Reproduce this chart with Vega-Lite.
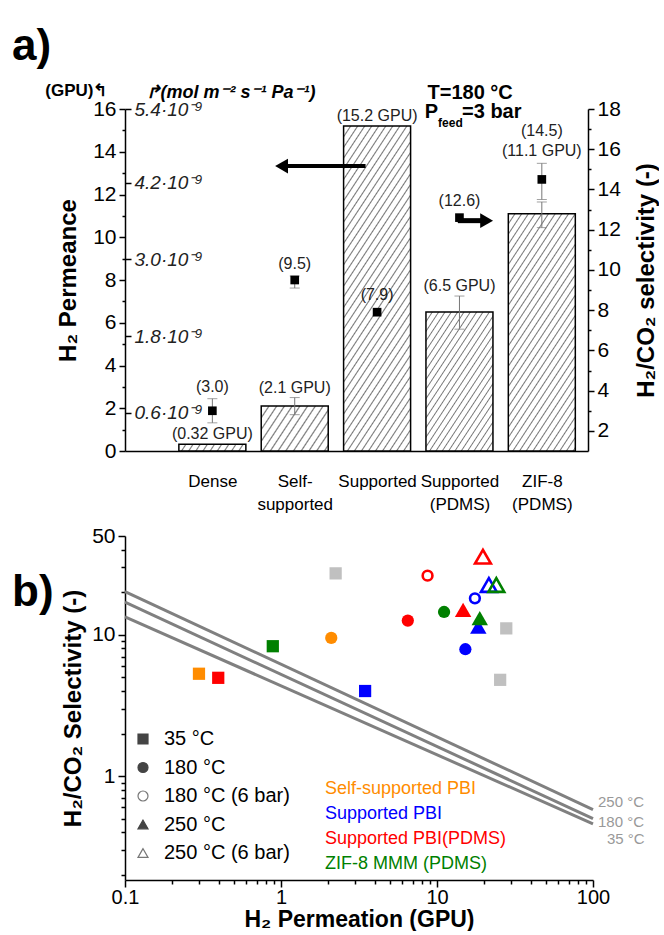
{
  "$schema": "https://vega.github.io/schema/vega-lite/v6.json",
  "autosize": {"type": "pad"},
  "padding": {"left": 12, "top": 25, "right": 0, "bottom": 0},
  "background": "white",
  "config": {
    "font": "Liberation Sans",
    "view": {"stroke": null},
    "axis": {
      "grid": false,
      "domainColor": "#000",
      "domainWidth": 1.5,
      "tickColor": "#000",
      "tickWidth": 1.5,
      "labelColor": "#000",
      "labelFontSize": 21,
      "labelFlush": false,
      "labelOverlap": false,
      "titleColor": "#000",
      "titleFontSize": 24,
      "titleFontWeight": "bold"
    }
  },
  "datasets": {
    "membranes": [
      {"pos": 1, "name": "Dense", "gpu": 0.32, "sel": 3.0, "selLo": 2.4, "selHi": 3.6, "gpuText": "(0.32 GPU)", "selText": "(3.0)"},
      {"pos": 2, "name": "Self-supported", "gpu": 2.1, "gpuLo": 1.7, "gpuHi": 2.5, "sel": 9.5, "selLo": 9.1, "selHi": 9.7, "gpuText": "(2.1 GPU)", "selText": "(9.5)"},
      {"pos": 3, "name": "Supported", "gpu": 15.2, "sel": 7.9, "gpuText": "(15.2 GPU)", "selText": "(7.9)"},
      {"pos": 4, "name": "Supported (PDMS)", "gpu": 6.5, "gpuLo": 5.7, "gpuHi": 7.25, "sel": 12.6, "gpuText": "(6.5 GPU)", "selText": "(12.6)"},
      {"pos": 5, "name": "ZIF-8 (PDMS)", "gpu": 11.1, "gpuLo": 10.45, "gpuHi": 11.65, "sel": 14.5, "selLo": 13.5, "selHi": 15.3, "gpuText": "(11.1 GPU)", "selText": "(14.5)"}
    ],
    "bounds": [
      {"temp": "250 °C", "perm": 0.1, "sel": 20.2},
      {"temp": "250 °C", "perm": 100, "sel": 0.58},
      {"temp": "180 °C", "perm": 0.1, "sel": 17.0},
      {"temp": "180 °C", "perm": 100, "sel": 0.5},
      {"temp": "35 °C", "perm": 0.1, "sel": 13.4},
      {"temp": "35 °C", "perm": 100, "sel": 0.46}
    ],
    "permeation": [
      {"material": "Reference data", "cond": "35 °C", "perm": 2.24, "sel": 27.2},
      {"material": "Reference data", "cond": "35 °C", "perm": 27.8, "sel": 11.1},
      {"material": "Reference data", "cond": "35 °C", "perm": 25.4, "sel": 4.8},
      {"material": "Self-supported PBI", "cond": "35 °C", "perm": 0.298, "sel": 5.3},
      {"material": "Self-supported PBI", "cond": "180 °C", "perm": 2.1, "sel": 9.5},
      {"material": "Supported PBI", "cond": "35 °C", "perm": 3.46, "sel": 4.0},
      {"material": "Supported PBI", "cond": "180 °C", "perm": 15.2, "sel": 7.9},
      {"material": "Supported PBI", "cond": "180 °C (6 bar)", "perm": 17.5, "sel": 18.1},
      {"material": "Supported PBI", "cond": "250 °C", "perm": 18.4, "sel": 11.4},
      {"material": "Supported PBI", "cond": "250 °C (6 bar)", "perm": 21.5, "sel": 22.5},
      {"material": "Supported PBI(PDMS)", "cond": "35 °C", "perm": 0.396, "sel": 4.96},
      {"material": "Supported PBI(PDMS)", "cond": "180 °C", "perm": 6.5, "sel": 12.6},
      {"material": "Supported PBI(PDMS)", "cond": "180 °C (6 bar)", "perm": 8.7, "sel": 26.2},
      {"material": "Supported PBI(PDMS)", "cond": "250 °C", "perm": 14.7, "sel": 15.0},
      {"material": "Supported PBI(PDMS)", "cond": "250 °C (6 bar)", "perm": 19.7, "sel": 35.7},
      {"material": "ZIF-8 MMM (PDMS)", "cond": "35 °C", "perm": 0.886, "sel": 8.3},
      {"material": "ZIF-8 MMM (PDMS)", "cond": "180 °C", "perm": 11.1, "sel": 14.5},
      {"material": "ZIF-8 MMM (PDMS)", "cond": "250 °C", "perm": 18.8, "sel": 13.1},
      {"material": "ZIF-8 MMM (PDMS)", "cond": "250 °C (6 bar)", "perm": 24.0, "sel": 22.5}
    ]
  },
  "spacing": 85,
  "bounds": "flush",
  "vconcat": [
    {
      "width": 463,
      "height": 342,
      "title": {"text": "a)", "anchor": "start", "frame": "group", "fontSize": 44, "fontWeight": "bold", "color": "#000", "dx": -113, "offset": 12},
      "layer": [
        {
          "layer": [
            {
              "data": {"name": "membranes"},
              "mark": {"type": "bar", "orient": "vertical", "size": 67, "stroke": "#000", "strokeWidth": 1.5},
              "encoding": {
                "x": {"field": "pos", "type": "quantitative", "scale": {"domain": [0, 5.5], "nice": false, "zero": false},
                  "axis": {"orient": "bottom", "title": null, "values": [1, 2, 3, 4, 5], "ticks": false, "labelPadding": 22, "labelFontSize": 17, "labelLineHeight": 23, "labelBaseline": "top",
                    "labelExpr": "datum.value == 1 ? 'Dense' : datum.value == 2 ? ['Self-', 'supported'] : datum.value == 3 ? 'Supported' : datum.value == 4 ? ['Supported', '(PDMS)'] : ['ZIF-8', '(PDMS)']"}},
                "y": {"field": "gpu", "type": "quantitative", "scale": {"domain": [0, 16], "nice": false, "zero": false},
                  "axis": {"orient": "left", "title": "H₂ Permeance", "values": [0, 2, 4, 6, 8, 10, 12, 14, 16], "tickSize": 6, "labelPadding": 3, "titlePadding": 12}},
                "fill": {"condition": [
                  {"test": "datum.pos == 1", "value": {"gradient": "linear", "x1": 0, "y1": 0, "x2": 1.0625, "y2": 0.0714, "stops": [
                    {"offset": 0.082, "color": "#fff"}, {"offset": 0.1, "color": "#777"}, {"offset": 0.118, "color": "#fff"},
                    {"offset": 0.182, "color": "#fff"}, {"offset": 0.2, "color": "#777"}, {"offset": 0.218, "color": "#fff"},
                    {"offset": 0.282, "color": "#fff"}, {"offset": 0.3, "color": "#777"}, {"offset": 0.318, "color": "#fff"},
                    {"offset": 0.382, "color": "#fff"}, {"offset": 0.4, "color": "#777"}, {"offset": 0.418, "color": "#fff"},
                    {"offset": 0.482, "color": "#fff"}, {"offset": 0.5, "color": "#777"}, {"offset": 0.518, "color": "#fff"},
                    {"offset": 0.582, "color": "#fff"}, {"offset": 0.6, "color": "#777"}, {"offset": 0.618, "color": "#fff"},
                    {"offset": 0.682, "color": "#fff"}, {"offset": 0.7, "color": "#777"}, {"offset": 0.718, "color": "#fff"},
                    {"offset": 0.782, "color": "#fff"}, {"offset": 0.8, "color": "#777"}, {"offset": 0.818, "color": "#fff"},
                    {"offset": 0.882, "color": "#fff"}, {"offset": 0.9, "color": "#777"}, {"offset": 0.918, "color": "#fff"}]}},
                  {"test": "datum.pos == 2", "value": {"gradient": "linear", "x1": 0, "y1": 0, "x2": 1.2064, "y2": 0.5325, "stops": [
                    {"offset": 0.0656, "color": "#fff"}, {"offset": 0.08, "color": "#777"}, {"offset": 0.0944, "color": "#fff"},
                    {"offset": 0.1456, "color": "#fff"}, {"offset": 0.16, "color": "#777"}, {"offset": 0.1744, "color": "#fff"},
                    {"offset": 0.2256, "color": "#fff"}, {"offset": 0.24, "color": "#777"}, {"offset": 0.2544, "color": "#fff"},
                    {"offset": 0.3056, "color": "#fff"}, {"offset": 0.32, "color": "#777"}, {"offset": 0.3344, "color": "#fff"},
                    {"offset": 0.3856, "color": "#fff"}, {"offset": 0.4, "color": "#777"}, {"offset": 0.4144, "color": "#fff"},
                    {"offset": 0.4656, "color": "#fff"}, {"offset": 0.48, "color": "#777"}, {"offset": 0.4944, "color": "#fff"},
                    {"offset": 0.5456, "color": "#fff"}, {"offset": 0.56, "color": "#777"}, {"offset": 0.5744, "color": "#fff"},
                    {"offset": 0.6256, "color": "#fff"}, {"offset": 0.64, "color": "#777"}, {"offset": 0.6544, "color": "#fff"},
                    {"offset": 0.7056, "color": "#fff"}, {"offset": 0.72, "color": "#777"}, {"offset": 0.7344, "color": "#fff"},
                    {"offset": 0.7856, "color": "#fff"}, {"offset": 0.8, "color": "#777"}, {"offset": 0.8144, "color": "#fff"},
                    {"offset": 0.8656, "color": "#fff"}, {"offset": 0.88, "color": "#777"}, {"offset": 0.8944, "color": "#fff"},
                    {"offset": 0.9456, "color": "#fff"}, {"offset": 0.96, "color": "#777"}, {"offset": 0.9744, "color": "#fff"}]}},
                  {"test": "datum.pos == 3", "value": {"gradient": "linear", "x1": 0, "y1": 0, "x2": 0.3744, "y2": 1.1959, "stops": [
                    {"offset": 0.0205, "color": "#fff"}, {"offset": 0.025, "color": "#777"}, {"offset": 0.0295, "color": "#fff"},
                    {"offset": 0.0455, "color": "#fff"}, {"offset": 0.05, "color": "#777"}, {"offset": 0.0545, "color": "#fff"},
                    {"offset": 0.0705, "color": "#fff"}, {"offset": 0.075, "color": "#777"}, {"offset": 0.0795, "color": "#fff"},
                    {"offset": 0.0955, "color": "#fff"}, {"offset": 0.1, "color": "#777"}, {"offset": 0.1045, "color": "#fff"},
                    {"offset": 0.1205, "color": "#fff"}, {"offset": 0.125, "color": "#777"}, {"offset": 0.1295, "color": "#fff"},
                    {"offset": 0.1455, "color": "#fff"}, {"offset": 0.15, "color": "#777"}, {"offset": 0.1545, "color": "#fff"},
                    {"offset": 0.1705, "color": "#fff"}, {"offset": 0.175, "color": "#777"}, {"offset": 0.1795, "color": "#fff"},
                    {"offset": 0.1955, "color": "#fff"}, {"offset": 0.2, "color": "#777"}, {"offset": 0.2045, "color": "#fff"},
                    {"offset": 0.2205, "color": "#fff"}, {"offset": 0.225, "color": "#777"}, {"offset": 0.2295, "color": "#fff"},
                    {"offset": 0.2455, "color": "#fff"}, {"offset": 0.25, "color": "#777"}, {"offset": 0.2545, "color": "#fff"},
                    {"offset": 0.2705, "color": "#fff"}, {"offset": 0.275, "color": "#777"}, {"offset": 0.2795, "color": "#fff"},
                    {"offset": 0.2955, "color": "#fff"}, {"offset": 0.3, "color": "#777"}, {"offset": 0.3045, "color": "#fff"},
                    {"offset": 0.3205, "color": "#fff"}, {"offset": 0.325, "color": "#777"}, {"offset": 0.3295, "color": "#fff"},
                    {"offset": 0.3455, "color": "#fff"}, {"offset": 0.35, "color": "#777"}, {"offset": 0.3545, "color": "#fff"},
                    {"offset": 0.3705, "color": "#fff"}, {"offset": 0.375, "color": "#777"}, {"offset": 0.3795, "color": "#fff"},
                    {"offset": 0.3955, "color": "#fff"}, {"offset": 0.4, "color": "#777"}, {"offset": 0.4045, "color": "#fff"},
                    {"offset": 0.4205, "color": "#fff"}, {"offset": 0.425, "color": "#777"}, {"offset": 0.4295, "color": "#fff"},
                    {"offset": 0.4455, "color": "#fff"}, {"offset": 0.45, "color": "#777"}, {"offset": 0.4545, "color": "#fff"},
                    {"offset": 0.4705, "color": "#fff"}, {"offset": 0.475, "color": "#777"}, {"offset": 0.4795, "color": "#fff"},
                    {"offset": 0.4955, "color": "#fff"}, {"offset": 0.5, "color": "#777"}, {"offset": 0.5045, "color": "#fff"},
                    {"offset": 0.5205, "color": "#fff"}, {"offset": 0.525, "color": "#777"}, {"offset": 0.5295, "color": "#fff"},
                    {"offset": 0.5455, "color": "#fff"}, {"offset": 0.55, "color": "#777"}, {"offset": 0.5545, "color": "#fff"},
                    {"offset": 0.5705, "color": "#fff"}, {"offset": 0.575, "color": "#777"}, {"offset": 0.5795, "color": "#fff"},
                    {"offset": 0.5955, "color": "#fff"}, {"offset": 0.6, "color": "#777"}, {"offset": 0.6045, "color": "#fff"},
                    {"offset": 0.6205, "color": "#fff"}, {"offset": 0.625, "color": "#777"}, {"offset": 0.6295, "color": "#fff"},
                    {"offset": 0.6455, "color": "#fff"}, {"offset": 0.65, "color": "#777"}, {"offset": 0.6545, "color": "#fff"},
                    {"offset": 0.6705, "color": "#fff"}, {"offset": 0.675, "color": "#777"}, {"offset": 0.6795, "color": "#fff"},
                    {"offset": 0.6955, "color": "#fff"}, {"offset": 0.7, "color": "#777"}, {"offset": 0.7045, "color": "#fff"},
                    {"offset": 0.7205, "color": "#fff"}, {"offset": 0.725, "color": "#777"}, {"offset": 0.7295, "color": "#fff"},
                    {"offset": 0.7455, "color": "#fff"}, {"offset": 0.75, "color": "#777"}, {"offset": 0.7545, "color": "#fff"},
                    {"offset": 0.7705, "color": "#fff"}, {"offset": 0.775, "color": "#777"}, {"offset": 0.7795, "color": "#fff"},
                    {"offset": 0.7955, "color": "#fff"}, {"offset": 0.8, "color": "#777"}, {"offset": 0.8045, "color": "#fff"},
                    {"offset": 0.8205, "color": "#fff"}, {"offset": 0.825, "color": "#777"}, {"offset": 0.8295, "color": "#fff"},
                    {"offset": 0.8455, "color": "#fff"}, {"offset": 0.85, "color": "#777"}, {"offset": 0.8545, "color": "#fff"},
                    {"offset": 0.8705, "color": "#fff"}, {"offset": 0.875, "color": "#777"}, {"offset": 0.8795, "color": "#fff"},
                    {"offset": 0.8955, "color": "#fff"}, {"offset": 0.9, "color": "#777"}, {"offset": 0.9045, "color": "#fff"},
                    {"offset": 0.9205, "color": "#fff"}, {"offset": 0.925, "color": "#777"}, {"offset": 0.9295, "color": "#fff"},
                    {"offset": 0.9455, "color": "#fff"}, {"offset": 0.95, "color": "#777"}, {"offset": 0.9545, "color": "#fff"},
                    {"offset": 0.9705, "color": "#fff"}, {"offset": 0.975, "color": "#777"}, {"offset": 0.9795, "color": "#fff"}]}},
                  {"test": "datum.pos == 4", "value": {"gradient": "linear", "x1": 0, "y1": 0, "x2": 0.8257, "y2": 1.1276, "stops": [
                    {"offset": 0.0328, "color": "#fff"}, {"offset": 0.04, "color": "#777"}, {"offset": 0.0472, "color": "#fff"},
                    {"offset": 0.0728, "color": "#fff"}, {"offset": 0.08, "color": "#777"}, {"offset": 0.0872, "color": "#fff"},
                    {"offset": 0.1128, "color": "#fff"}, {"offset": 0.12, "color": "#777"}, {"offset": 0.1272, "color": "#fff"},
                    {"offset": 0.1528, "color": "#fff"}, {"offset": 0.16, "color": "#777"}, {"offset": 0.1672, "color": "#fff"},
                    {"offset": 0.1928, "color": "#fff"}, {"offset": 0.2, "color": "#777"}, {"offset": 0.2072, "color": "#fff"},
                    {"offset": 0.2328, "color": "#fff"}, {"offset": 0.24, "color": "#777"}, {"offset": 0.2472, "color": "#fff"},
                    {"offset": 0.2728, "color": "#fff"}, {"offset": 0.28, "color": "#777"}, {"offset": 0.2872, "color": "#fff"},
                    {"offset": 0.3128, "color": "#fff"}, {"offset": 0.32, "color": "#777"}, {"offset": 0.3272, "color": "#fff"},
                    {"offset": 0.3528, "color": "#fff"}, {"offset": 0.36, "color": "#777"}, {"offset": 0.3672, "color": "#fff"},
                    {"offset": 0.3928, "color": "#fff"}, {"offset": 0.4, "color": "#777"}, {"offset": 0.4072, "color": "#fff"},
                    {"offset": 0.4328, "color": "#fff"}, {"offset": 0.44, "color": "#777"}, {"offset": 0.4472, "color": "#fff"},
                    {"offset": 0.4728, "color": "#fff"}, {"offset": 0.48, "color": "#777"}, {"offset": 0.4872, "color": "#fff"},
                    {"offset": 0.5128, "color": "#fff"}, {"offset": 0.52, "color": "#777"}, {"offset": 0.5272, "color": "#fff"},
                    {"offset": 0.5528, "color": "#fff"}, {"offset": 0.56, "color": "#777"}, {"offset": 0.5672, "color": "#fff"},
                    {"offset": 0.5928, "color": "#fff"}, {"offset": 0.6, "color": "#777"}, {"offset": 0.6072, "color": "#fff"},
                    {"offset": 0.6328, "color": "#fff"}, {"offset": 0.64, "color": "#777"}, {"offset": 0.6472, "color": "#fff"},
                    {"offset": 0.6728, "color": "#fff"}, {"offset": 0.68, "color": "#777"}, {"offset": 0.6872, "color": "#fff"},
                    {"offset": 0.7128, "color": "#fff"}, {"offset": 0.72, "color": "#777"}, {"offset": 0.7272, "color": "#fff"},
                    {"offset": 0.7528, "color": "#fff"}, {"offset": 0.76, "color": "#777"}, {"offset": 0.7672, "color": "#fff"},
                    {"offset": 0.7928, "color": "#fff"}, {"offset": 0.8, "color": "#777"}, {"offset": 0.8072, "color": "#fff"},
                    {"offset": 0.8328, "color": "#fff"}, {"offset": 0.84, "color": "#777"}, {"offset": 0.8472, "color": "#fff"},
                    {"offset": 0.8728, "color": "#fff"}, {"offset": 0.88, "color": "#777"}, {"offset": 0.8872, "color": "#fff"},
                    {"offset": 0.9128, "color": "#fff"}, {"offset": 0.92, "color": "#777"}, {"offset": 0.9272, "color": "#fff"},
                    {"offset": 0.9528, "color": "#fff"}, {"offset": 0.96, "color": "#777"}, {"offset": 0.9672, "color": "#fff"}]}}
                ],
                "value": {"gradient": "linear", "x1": 0, "y1": 0, "x2": 0.5173, "y2": 1.2069, "stops": [
                    {"offset": 0.0246, "color": "#fff"}, {"offset": 0.03, "color": "#777"}, {"offset": 0.0354, "color": "#fff"},
                    {"offset": 0.0546, "color": "#fff"}, {"offset": 0.06, "color": "#777"}, {"offset": 0.0654, "color": "#fff"},
                    {"offset": 0.0846, "color": "#fff"}, {"offset": 0.09, "color": "#777"}, {"offset": 0.0954, "color": "#fff"},
                    {"offset": 0.1146, "color": "#fff"}, {"offset": 0.12, "color": "#777"}, {"offset": 0.1254, "color": "#fff"},
                    {"offset": 0.1446, "color": "#fff"}, {"offset": 0.15, "color": "#777"}, {"offset": 0.1554, "color": "#fff"},
                    {"offset": 0.1746, "color": "#fff"}, {"offset": 0.18, "color": "#777"}, {"offset": 0.1854, "color": "#fff"},
                    {"offset": 0.2046, "color": "#fff"}, {"offset": 0.21, "color": "#777"}, {"offset": 0.2154, "color": "#fff"},
                    {"offset": 0.2346, "color": "#fff"}, {"offset": 0.24, "color": "#777"}, {"offset": 0.2454, "color": "#fff"},
                    {"offset": 0.2646, "color": "#fff"}, {"offset": 0.27, "color": "#777"}, {"offset": 0.2754, "color": "#fff"},
                    {"offset": 0.2946, "color": "#fff"}, {"offset": 0.3, "color": "#777"}, {"offset": 0.3054, "color": "#fff"},
                    {"offset": 0.3246, "color": "#fff"}, {"offset": 0.33, "color": "#777"}, {"offset": 0.3354, "color": "#fff"},
                    {"offset": 0.3546, "color": "#fff"}, {"offset": 0.36, "color": "#777"}, {"offset": 0.3654, "color": "#fff"},
                    {"offset": 0.3846, "color": "#fff"}, {"offset": 0.39, "color": "#777"}, {"offset": 0.3954, "color": "#fff"},
                    {"offset": 0.4146, "color": "#fff"}, {"offset": 0.42, "color": "#777"}, {"offset": 0.4254, "color": "#fff"},
                    {"offset": 0.4446, "color": "#fff"}, {"offset": 0.45, "color": "#777"}, {"offset": 0.4554, "color": "#fff"},
                    {"offset": 0.4746, "color": "#fff"}, {"offset": 0.48, "color": "#777"}, {"offset": 0.4854, "color": "#fff"},
                    {"offset": 0.5046, "color": "#fff"}, {"offset": 0.51, "color": "#777"}, {"offset": 0.5154, "color": "#fff"},
                    {"offset": 0.5346, "color": "#fff"}, {"offset": 0.54, "color": "#777"}, {"offset": 0.5454, "color": "#fff"},
                    {"offset": 0.5646, "color": "#fff"}, {"offset": 0.57, "color": "#777"}, {"offset": 0.5754, "color": "#fff"},
                    {"offset": 0.5946, "color": "#fff"}, {"offset": 0.6, "color": "#777"}, {"offset": 0.6054, "color": "#fff"},
                    {"offset": 0.6246, "color": "#fff"}, {"offset": 0.63, "color": "#777"}, {"offset": 0.6354, "color": "#fff"},
                    {"offset": 0.6546, "color": "#fff"}, {"offset": 0.66, "color": "#777"}, {"offset": 0.6654, "color": "#fff"},
                    {"offset": 0.6846, "color": "#fff"}, {"offset": 0.69, "color": "#777"}, {"offset": 0.6954, "color": "#fff"},
                    {"offset": 0.7146, "color": "#fff"}, {"offset": 0.72, "color": "#777"}, {"offset": 0.7254, "color": "#fff"},
                    {"offset": 0.7446, "color": "#fff"}, {"offset": 0.75, "color": "#777"}, {"offset": 0.7554, "color": "#fff"},
                    {"offset": 0.7746, "color": "#fff"}, {"offset": 0.78, "color": "#777"}, {"offset": 0.7854, "color": "#fff"},
                    {"offset": 0.8046, "color": "#fff"}, {"offset": 0.81, "color": "#777"}, {"offset": 0.8154, "color": "#fff"},
                    {"offset": 0.8346, "color": "#fff"}, {"offset": 0.84, "color": "#777"}, {"offset": 0.8454, "color": "#fff"},
                    {"offset": 0.8646, "color": "#fff"}, {"offset": 0.87, "color": "#777"}, {"offset": 0.8754, "color": "#fff"},
                    {"offset": 0.8946, "color": "#fff"}, {"offset": 0.9, "color": "#777"}, {"offset": 0.9054, "color": "#fff"},
                    {"offset": 0.9246, "color": "#fff"}, {"offset": 0.93, "color": "#777"}, {"offset": 0.9354, "color": "#fff"},
                    {"offset": 0.9546, "color": "#fff"}, {"offset": 0.96, "color": "#777"}, {"offset": 0.9654, "color": "#fff"},
                    {"offset": 0.9846, "color": "#fff"}, {"offset": 0.99, "color": "#777"}, {"offset": 0.9954, "color": "#fff"}]}}
              }
            },
            {
              "data": {"name": "membranes"},
              "mark": {"type": "rule", "color": "#777", "strokeWidth": 1},
              "encoding": {
                "x": {"field": "pos", "type": "quantitative", "scale": {"domain": [0, 5.5], "nice": false, "zero": false}},
                "y": {"field": "gpuLo", "type": "quantitative", "scale": {"domain": [0, 16], "nice": false, "zero": false},
                  "axis": {"orient": "left", "values": [1, 3, 5, 7, 9, 11, 13, 15], "labels": false, "domain": false, "tickSize": 3,
                    "title": "(GPU)↰", "titleAngle": 0, "titleAlign": "right", "titleBaseline": "alphabetic", "titleX": -18, "titleY": -14, "titleFontSize": 17}},
                "y2": {"field": "gpuHi"}
              }
            },
            {
              "data": {"name": "membranes"},
              "mark": {"type": "tick", "orient": "horizontal", "size": 10, "thickness": 1, "color": "#777"},
              "encoding": {
                "x": {"field": "pos", "type": "quantitative", "scale": {"domain": [0, 5.5], "nice": false, "zero": false}},
                "y": {"field": "gpuLo", "type": "quantitative", "scale": {"domain": [0, 16], "nice": false, "zero": false}, "axis": null}
              }
            },
            {
              "data": {"name": "membranes"},
              "mark": {"type": "tick", "orient": "horizontal", "size": 10, "thickness": 1, "color": "#777"},
              "encoding": {
                "x": {"field": "pos", "type": "quantitative", "scale": {"domain": [0, 5.5], "nice": false, "zero": false}},
                "y": {"field": "gpuHi", "type": "quantitative", "scale": {"domain": [0, 16], "nice": false, "zero": false}, "axis": null}
              }
            },
            {
              "data": {"name": "membranes"},
              "transform": [{"filter": "isValid(datum.gpuHi) && datum.pos != 5"}],
              "mark": {"type": "text", "baseline": "bottom", "dy": -2, "fontSize": 16, "color": "#222"},
              "encoding": {
                "x": {"field": "pos", "type": "quantitative", "scale": {"domain": [0, 5.5], "nice": false, "zero": false}},
                "y": {"field": "gpuHi", "type": "quantitative", "scale": {"domain": [0, 16], "nice": false, "zero": false},
                  "axis": {"orient": "left", "values": [1.79, 5.37, 8.96, 12.54, 16], "tickSize": -6, "labelPadding": -3, "labelAlign": "left", "labelBaseline": "middle",
                    "labelFontStyle": "italic", "labelFontSize": 19, "labelColor": "#222", "domain": false,
                    "labelExpr": "format(datum.value * 0.335, '.1f') + '·10⁻⁹'",
                    "title": "↱(mol m⁻² s⁻¹ Pa⁻¹)", "titleAngle": 0, "titleAlign": "left", "titleBaseline": "alphabetic", "titleX": 20, "titleY": -12, "titleFontStyle": "italic", "titleFontSize": 18}},
                "text": {"field": "gpuText"}
              }
            },
            {
              "data": {"name": "membranes"},
              "transform": [{"filter": "!isValid(datum.gpuHi)"}],
              "mark": {"type": "text", "baseline": "bottom", "dy": -2, "fontSize": 16, "color": "#222"},
              "encoding": {
                "x": {"field": "pos", "type": "quantitative", "scale": {"domain": [0, 5.5], "nice": false, "zero": false}},
                "y": {"field": "gpu", "type": "quantitative", "scale": {"domain": [0, 16], "nice": false, "zero": false}, "axis": null},
                "text": {"field": "gpuText"}
              }
            },
            {
              "data": {"values": [{}]},
              "mark": {"type": "rule", "color": "#000", "strokeWidth": 4},
              "encoding": {
                "x": {"datum": 1.84, "type": "quantitative", "scale": {"domain": [0, 5.5], "nice": false, "zero": false}},
                "x2": {"datum": 2.86},
                "y": {"datum": 13.33, "type": "quantitative", "scale": {"domain": [0, 16], "nice": false, "zero": false}, "axis": null}
              }
            },
            {
              "data": {"values": [{}]},
              "mark": {"type": "point", "shape": "triangle-left", "filled": true, "color": "#000", "size": 220, "opacity": 1},
              "encoding": {
                "x": {"datum": 1.84, "type": "quantitative", "scale": {"domain": [0, 5.5], "nice": false, "zero": false}},
                "y": {"datum": 13.33, "type": "quantitative", "scale": {"domain": [0, 16], "nice": false, "zero": false}, "axis": null}
              }
            }
          ],
          "resolve": {"axis": {"y": "independent"}}
        },
        {
          "layer": [
            {
              "data": {"name": "membranes"},
              "mark": {"type": "rule", "color": "#777", "strokeWidth": 1},
              "encoding": {
                "x": {"field": "pos", "type": "quantitative", "scale": {"domain": [0, 5.5], "nice": false, "zero": false}},
                "y": {"field": "selLo", "type": "quantitative", "scale": {"domain": [1, 18], "nice": false, "zero": false},
                  "axis": {"orient": "right", "values": [3, 5, 7, 9, 11, 13, 15, 17], "labels": false, "domain": false, "tickSize": 3, "title": null}},
                "y2": {"field": "selHi"}
              }
            },
            {
              "data": {"name": "membranes"},
              "mark": {"type": "tick", "orient": "horizontal", "size": 10, "thickness": 1, "color": "#777"},
              "encoding": {
                "x": {"field": "pos", "type": "quantitative", "scale": {"domain": [0, 5.5], "nice": false, "zero": false}},
                "y": {"field": "selLo", "type": "quantitative", "scale": {"domain": [1, 18], "nice": false, "zero": false}, "axis": null}
              }
            },
            {
              "data": {"name": "membranes"},
              "mark": {"type": "tick", "orient": "horizontal", "size": 10, "thickness": 1, "color": "#777"},
              "encoding": {
                "x": {"field": "pos", "type": "quantitative", "scale": {"domain": [0, 5.5], "nice": false, "zero": false}},
                "y": {"field": "selHi", "type": "quantitative", "scale": {"domain": [1, 18], "nice": false, "zero": false}, "axis": null}
              }
            },
            {
              "data": {"name": "membranes"},
              "mark": {"type": "square", "size": 75, "color": "#000", "filled": true, "opacity": 1},
              "encoding": {
                "x": {"field": "pos", "type": "quantitative", "scale": {"domain": [0, 5.5], "nice": false, "zero": false}},
                "y": {"field": "sel", "type": "quantitative", "scale": {"domain": [1, 18], "nice": false, "zero": false},
                  "axis": {"orient": "right", "title": "H₂/CO₂ selectivity (-)", "values": [2, 4, 6, 8, 10, 12, 14, 16, 18], "tickSize": 6, "labelPadding": 3, "titleAngle": 270, "titleBaseline": "top", "titlePadding": 14}}
              }
            },
            {
              "data": {"name": "membranes"},
              "transform": [{"filter": "isValid(datum.selHi) && datum.pos != 5"}],
              "mark": {"type": "text", "baseline": "bottom", "dy": -4, "fontSize": 16, "color": "#222"},
              "encoding": {
                "x": {"field": "pos", "type": "quantitative", "scale": {"domain": [0, 5.5], "nice": false, "zero": false}},
                "y": {"field": "selHi", "type": "quantitative", "scale": {"domain": [1, 18], "nice": false, "zero": false}, "axis": null},
                "text": {"field": "selText"}
              }
            },
            {
              "data": {"name": "membranes"},
              "transform": [{"filter": "datum.pos == 5"}],
              "mark": {"type": "text", "baseline": "bottom", "dy": -24, "fontSize": 16, "color": "#222"},
              "encoding": {
                "x": {"field": "pos", "type": "quantitative", "scale": {"domain": [0, 5.5], "nice": false, "zero": false}},
                "y": {"field": "selHi", "type": "quantitative", "scale": {"domain": [1, 18], "nice": false, "zero": false}, "axis": null},
                "text": {"field": "selText"}
              }
            },
            {
              "data": {"name": "membranes"},
              "transform": [{"filter": "datum.pos == 5"}],
              "mark": {"type": "text", "baseline": "bottom", "dy": -4, "fontSize": 16, "color": "#222"},
              "encoding": {
                "x": {"field": "pos", "type": "quantitative", "scale": {"domain": [0, 5.5], "nice": false, "zero": false}},
                "y": {"field": "selHi", "type": "quantitative", "scale": {"domain": [1, 18], "nice": false, "zero": false}, "axis": null},
                "text": {"field": "gpuText"}
              }
            },
            {
              "data": {"name": "membranes"},
              "transform": [{"filter": "!isValid(datum.selHi)"}],
              "mark": {"type": "text", "baseline": "bottom", "dy": -9, "fontSize": 16, "color": "#222"},
              "encoding": {
                "x": {"field": "pos", "type": "quantitative", "scale": {"domain": [0, 5.5], "nice": false, "zero": false}},
                "y": {"field": "sel", "type": "quantitative", "scale": {"domain": [1, 18], "nice": false, "zero": false}, "axis": null},
                "text": {"field": "selText"}
              }
            },
            {
              "data": {"values": [{}]},
              "mark": {"type": "rule", "color": "#000", "strokeWidth": 5},
              "encoding": {
                "x": {"datum": 3.98, "type": "quantitative", "scale": {"domain": [0, 5.5], "nice": false, "zero": false}},
                "x2": {"datum": 4.3},
                "y": {"datum": 12.45, "type": "quantitative", "scale": {"domain": [1, 18], "nice": false, "zero": false}, "axis": null}
              }
            },
            {
              "data": {"values": [{}]},
              "mark": {"type": "point", "shape": "triangle-right", "filled": true, "color": "#000", "size": 220, "opacity": 1},
              "encoding": {
                "x": {"datum": 4.33, "type": "quantitative", "scale": {"domain": [0, 5.5], "nice": false, "zero": false}},
                "y": {"datum": 12.45, "type": "quantitative", "scale": {"domain": [1, 18], "nice": false, "zero": false}, "axis": null}
              }
            },
            {
              "data": {"values": [{}]},
              "mark": {"type": "text", "text": "T=180 °C", "fontSize": 20, "fontWeight": "bold", "color": "#000", "align": "center", "baseline": "alphabetic"},
              "encoding": {
                "x": {"datum": 4.13, "type": "quantitative", "scale": {"domain": [0, 5.5], "nice": false, "zero": false}},
                "y": {"datum": 18.5, "type": "quantitative", "scale": {"domain": [1, 18], "nice": false, "zero": false}, "axis": null}
              }
            },
            {
              "data": {"values": [{}]},
              "mark": {"type": "text", "text": "P", "fontSize": 20, "fontWeight": "bold", "color": "#000", "align": "right", "baseline": "alphabetic"},
              "encoding": {
                "x": {"datum": 3.74, "type": "quantitative", "scale": {"domain": [0, 5.5], "nice": false, "zero": false}},
                "y": {"datum": 17.57, "type": "quantitative", "scale": {"domain": [1, 18], "nice": false, "zero": false}, "axis": null}
              }
            },
            {
              "data": {"values": [{}]},
              "mark": {"type": "text", "text": "feed", "fontSize": 12, "fontWeight": "bold", "color": "#000", "align": "left", "baseline": "alphabetic", "dy": 9},
              "encoding": {
                "x": {"datum": 3.74, "type": "quantitative", "scale": {"domain": [0, 5.5], "nice": false, "zero": false}},
                "y": {"datum": 17.57, "type": "quantitative", "scale": {"domain": [1, 18], "nice": false, "zero": false}, "axis": null}
              }
            },
            {
              "data": {"values": [{}]},
              "mark": {"type": "text", "text": "=3 bar", "fontSize": 20, "fontWeight": "bold", "color": "#000", "align": "left", "baseline": "alphabetic", "dx": 24},
              "encoding": {
                "x": {"datum": 3.74, "type": "quantitative", "scale": {"domain": [0, 5.5], "nice": false, "zero": false}},
                "y": {"datum": 17.57, "type": "quantitative", "scale": {"domain": [1, 18], "nice": false, "zero": false}, "axis": null}
              }
            }
          ],
          "resolve": {"axis": {"y": "independent"}}
        }
      ],
      "resolve": {"scale": {"y": "independent"}, "axis": {"y": "independent"}}
    },
    {
      "width": 468,
      "height": 344,
      "title": {"text": "b)", "anchor": "start", "frame": "group", "fontSize": 44, "fontWeight": "bold", "color": "#000", "dx": -113, "dy": 90, "offset": 0},
      "layer": [
        {
          "data": {"name": "bounds"},
          "mark": {"type": "line", "color": "#808080", "strokeWidth": 3},
          "encoding": {
            "x": {"field": "perm", "type": "quantitative", "scale": {"type": "log", "domain": [0.1, 100], "nice": false},
              "axis": {"orient": "bottom", "values": [0.2, 0.3, 0.4, 0.5, 0.6, 0.7, 0.8, 0.9, 2, 3, 4, 5, 6, 7, 8, 9, 20, 30, 40, 50, 60, 70, 80, 90], "labels": false, "domain": false, "tickSize": 4, "title": null}},
            "y": {"field": "sel", "type": "quantitative", "scale": {"type": "log", "domain": [0.184, 50], "nice": false},
              "axis": {"orient": "left", "values": [0.2, 0.3, 0.4, 0.5, 0.6, 0.7, 0.8, 0.9, 2, 3, 4, 5, 6, 7, 8, 9, 20, 30, 40], "labels": false, "domain": false, "tickSize": 4, "title": null}},
            "detail": {"field": "temp", "type": "nominal"}
          }
        },
        {
          "data": {"name": "bounds"},
          "transform": [{"filter": "datum.perm == 100 && datum.temp == '250 °C'"}],
          "mark": {"type": "text", "align": "left", "baseline": "middle", "dx": 5, "dy": -8, "fontSize": 15, "color": "#999"},
          "encoding": {
            "x": {"field": "perm", "type": "quantitative", "scale": {"type": "log", "domain": [0.1, 100], "nice": false}, "axis": null},
            "y": {"field": "sel", "type": "quantitative", "scale": {"type": "log", "domain": [0.184, 50], "nice": false}, "axis": null},
            "text": {"field": "temp"}
          }
        },
        {
          "data": {"name": "bounds"},
          "transform": [{"filter": "datum.perm == 100 && datum.temp == '180 °C'"}],
          "mark": {"type": "text", "align": "left", "baseline": "middle", "dx": 5, "dy": 3, "fontSize": 15, "color": "#999"},
          "encoding": {
            "x": {"field": "perm", "type": "quantitative", "scale": {"type": "log", "domain": [0.1, 100], "nice": false}, "axis": null},
            "y": {"field": "sel", "type": "quantitative", "scale": {"type": "log", "domain": [0.184, 50], "nice": false}, "axis": null},
            "text": {"field": "temp"}
          }
        },
        {
          "data": {"name": "bounds"},
          "transform": [{"filter": "datum.perm == 100 && datum.temp == '35 °C'"}],
          "mark": {"type": "text", "align": "left", "baseline": "middle", "dx": 14, "dy": 15, "fontSize": 15, "color": "#999"},
          "encoding": {
            "x": {"field": "perm", "type": "quantitative", "scale": {"type": "log", "domain": [0.1, 100], "nice": false}, "axis": null},
            "y": {"field": "sel", "type": "quantitative", "scale": {"type": "log", "domain": [0.184, 50], "nice": false}, "axis": null},
            "text": {"field": "temp"}
          }
        },
        {
          "data": {"name": "permeation"},
          "transform": [{"filter": "indexof(datum.cond, '6 bar') < 0"}],
          "mark": {"type": "point", "filled": true, "opacity": 1, "strokeWidth": 0},
          "encoding": {
            "x": {"field": "perm", "type": "quantitative", "scale": {"type": "log", "domain": [0.1, 100], "nice": false},
              "axis": {"orient": "bottom", "title": "H₂ Permeation (GPU)", "values": [0.1, 1, 10, 100], "format": "~g", "tickSize": 7, "labelPadding": 0, "labelFontSize": 20, "titlePadding": 1, "titleFontSize": 23}},
            "y": {"field": "sel", "type": "quantitative", "scale": {"type": "log", "domain": [0.184, 50], "nice": false},
              "axis": {"orient": "left", "title": "H₂/CO₂ Selectivity (-)", "values": [1, 10, 50], "format": "~g", "tickSize": 7, "labelPadding": 3, "titlePadding": 6}},
            "shape": {"field": "cond", "type": "nominal",
              "scale": {"domain": ["35 °C", "180 °C", "180 °C (6 bar)", "250 °C", "250 °C (6 bar)"], "range": ["square", "circle", "circle", "triangle-up", "triangle-up"]},
              "legend": {"orient": "none", "legendX": 8, "legendY": 620, "title": null, "padding": 0, "labelFontSize": 20, "labelColor": "#000", "labelOffset": 11, "symbolSize": 100, "rowPadding": 8.5,
                "symbolFillColor": {"expr": "indexof(datum.value, '6 bar') >= 0 ? 'transparent' : '#444'"},
                "symbolStrokeColor": {"expr": "indexof(datum.value, '6 bar') >= 0 ? '#777' : '#444'"},
                "symbolStrokeWidth": 1.2,
                "labelExpr": "datum.label == '35 °C' ? '\u00a0\u00a035 °C' : datum.label"}},
            "color": {"field": "material", "type": "nominal",
              "scale": {"domain": ["Self-supported PBI", "Supported PBI", "Supported PBI(PDMS)", "ZIF-8 MMM (PDMS)", "Reference data"], "range": ["#FF8C00", "#0000FF", "#FF0000", "#008000", "#C0C0C0"]},
              "legend": {"orient": "none", "legendX": 182, "legendY": 671, "title": null, "padding": 0, "values": ["Self-supported PBI", "Supported PBI", "Supported PBI(PDMS)", "ZIF-8 MMM (PDMS)"],
                "symbolSize": 0, "symbolOpacity": 0, "symbolFillColor": "transparent", "symbolStrokeColor": "transparent", "symbolStrokeWidth": 0,
                "labelOffset": 0, "labelFontSize": 18, "labelLimit": 300, "rowPadding": 7,
                "labelColor": {"expr": "datum.value == 'Self-supported PBI' ? '#FF8C00' : datum.value == 'Supported PBI' ? '#0000FF' : datum.value == 'Supported PBI(PDMS)' ? '#FF0000' : '#008000'"}}},
            "size": {"condition": {"test": "datum.cond == '250 °C'", "value": 270}, "value": 150}
          }
        },
        {
          "data": {"name": "permeation"},
          "transform": [{"filter": "indexof(datum.cond, '6 bar') >= 0"}],
          "mark": {"type": "point", "filled": false, "opacity": 1, "strokeWidth": 2.6},
          "encoding": {
            "x": {"field": "perm", "type": "quantitative", "scale": {"type": "log", "domain": [0.1, 100], "nice": false}, "axis": null},
            "y": {"field": "sel", "type": "quantitative", "scale": {"type": "log", "domain": [0.184, 50], "nice": false}, "axis": null},
            "shape": {"field": "cond", "type": "nominal",
              "scale": {"domain": ["35 °C", "180 °C", "180 °C (6 bar)", "250 °C", "250 °C (6 bar)"], "range": ["square", "circle", "circle", "triangle-up", "triangle-up"]}},
            "color": {"field": "material", "type": "nominal",
              "scale": {"domain": ["Self-supported PBI", "Supported PBI", "Supported PBI(PDMS)", "ZIF-8 MMM (PDMS)", "Reference data"], "range": ["#FF8C00", "#0000FF", "#FF0000", "#008000", "#C0C0C0"]}},
            "size": {"condition": {"test": "datum.cond == '250 °C (6 bar)'", "value": 250}, "value": 95}
          }
        }
      ],
      "resolve": {"axis": {"x": "independent", "y": "independent"}}
    }
  ]
}
